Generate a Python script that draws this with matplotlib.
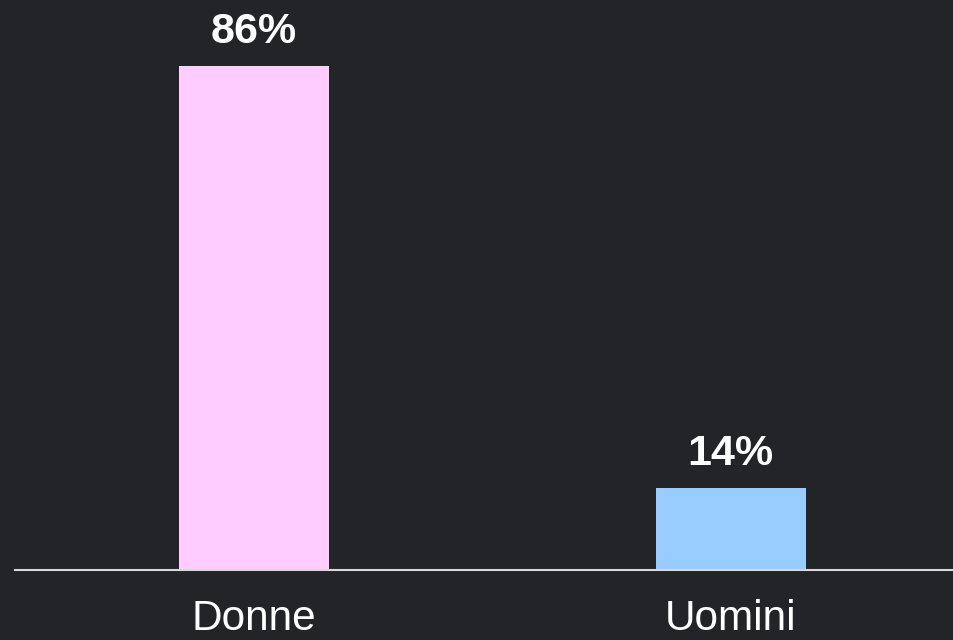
import matplotlib
matplotlib.use("Agg")
import matplotlib.pyplot as plt

categories = ["Donne", "Uomini"]
values = [86, 14]
labels = ["86%", "14%"]
colors = ["#FFCCFF", "#99CCFF"]

W, H = 954, 640
dpi = 100
fig = plt.figure(figsize=(W / dpi, H / dpi), dpi=dpi)
bg = "#222427"
fig.patch.set_facecolor(bg)

left, right, base = 15, 954, 570
ax = fig.add_axes([left / W, (H - base) / H, (right - left) / W, base / H])
ax.set_facecolor(bg)

px_per_unit = (570 - 66) / 86.0
ax.set_ylim(0, base / px_per_unit)
spacing = 477.0
ax.set_xlim(-0.5, -0.5 + (right - left) / spacing)

x = list(range(len(categories)))
ax.bar(x, values, width=150 / spacing, color=colors, zorder=2)
for xi, v, lab in zip(x, values, labels):
    ax.annotate(lab, (xi, v), xytext=(0, 10), textcoords="offset points",
                ha="center", va="bottom", color="white", fontsize=31,
                fontweight="bold", family="Liberation Sans")

for s in ["top", "right", "left"]:
    ax.spines[s].set_visible(False)
ax.spines["bottom"].set_color("#d9d9d9")
ax.spines["bottom"].set_linewidth(1.5)
ax.set_yticks([])
ax.set_xticks(x)
ax.set_xticklabels(categories, color="white", fontsize=30.5, family="Liberation Sans")
ax.tick_params(axis="x", length=0, pad=21)

fig.savefig("out.png", dpi=dpi, facecolor=bg)
